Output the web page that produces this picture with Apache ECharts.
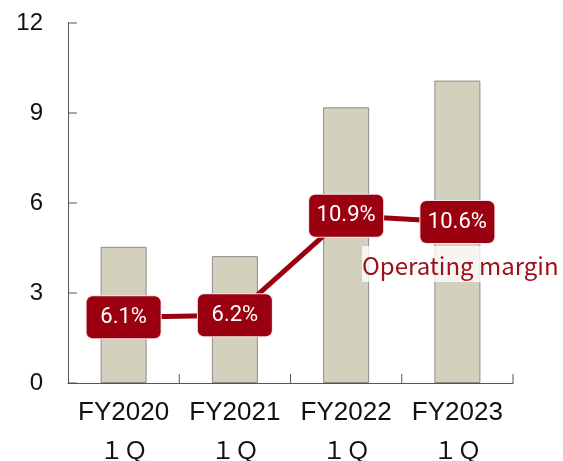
<!DOCTYPE html>
<html><head><meta charset="utf-8">
<script src="https://cdn.jsdelivr.net/npm/echarts@6/dist/echarts.min.js"></script>
<style>html,body{margin:0;padding:0;background:#fff}#c{width:563px;height:461px}</style>
</head><body><div id="c"></div>
<script>
const categories = ['FY2020', 'FY2021', 'FY2022', 'FY2023'];
const quarterLabel = '１Ｑ';
const barValues = [4.54, 4.23, 9.19, 10.08];
const marginValues = [6.1, 6.2, 10.9, 10.6];
const yTicks = [0, 3, 6, 9, 12];
const lineName = 'Operating margin';

const TICK = 9, TICK_COLOR = '#555';
const tickFrac = 0.02;
const yTickData = [];
yTicks.forEach(v => { yTickData.push([0, v], [tickFrac, v], [tickFrac, '-']); });

function xTickItem(params, api) {
  const p = api.coord([api.value(0), 0]);
  const bw = api.size([1, 0])[0];
  const x = p[0] + bw / 2;
  return { type: 'line', shape: { x1: x, y1: p[1], x2: x, y2: p[1] - TICK },
    style: { stroke: TICK_COLOR, lineWidth: 1 } };
}

const chart = echarts.init(document.getElementById('c'));
chart.setOption({
  animation: false,
  grid: { left: 68, right: 50, top: 23, bottom: 78, containLabel: false, outerBoundsMode: 'none' },
  xAxis: [{
    type: 'category', data: categories, boundaryGap: true,
    axisLine: { show: true, lineStyle: { color: TICK_COLOR, width: 1 } },
    axisTick: { show: false },
    axisLabel: {
      interval: 0, margin: 11,
      formatter: v => '{a|' + v + '}\n{b|' + quarterLabel + '}',
      rich: {
        a: { color: '#111', fontSize: 26, fontFamily: 'Liberation Sans, Arial', lineHeight: 37 },
        b: { color: '#111', fontSize: 24, fontFamily: 'Noto Sans CJK JP', lineHeight: 37 }
      }
    }
  }, {
    type: 'value', min: 0, max: 1, show: false, splitLine: { show: false }
  }],
  yAxis: [{
    type: 'value', min: yTicks[0], max: yTicks[yTicks.length - 1], interval: 3,
    axisLine: { show: true, lineStyle: { color: TICK_COLOR, width: 1 } },
    axisTick: { show: false },
    splitLine: { show: false },
    axisLabel: { color: '#111', fontSize: 24, fontFamily: 'Liberation Sans, Arial', margin: 25 }
  }, {
    type: 'value', min: 3, max: 20, show: false, splitLine: { show: false }
  }],
  series: [{
    type: 'bar', data: barValues, barWidth: 46, yAxisIndex: 0,
    itemStyle: { color: '#d3d0bd', borderColor: '#8c8c8c', borderWidth: 1 }
  }, {
    type: 'line', name: lineName, data: marginValues, yAxisIndex: 1,
    lineStyle: { color: '#9b0010', width: 5 },
    symbol: 'circle', symbolSize: 2, showSymbol: true,
    itemStyle: { color: '#9b0010' },
    label: {
      show: true, position: 'inside', formatter: '{c}%', color: '#fff',
      fontSize: 22, fontFamily: 'Roboto',
      backgroundColor: '#9b0010', borderColor: '#f4e6e6', borderWidth: 1, borderRadius: 6,
      width: 74, height: 42, lineHeight: 42, align: 'center', verticalAlign: 'middle', padding: 0
    },
    z: 5
  }, {
    type: 'line', xAxisIndex: 1, yAxisIndex: 0, data: yTickData, silent: true,
    showSymbol: false, symbol: 'none', connectNulls: false, clip: false, z: 10,
    lineStyle: { color: TICK_COLOR, width: 1 }
  }, {
    type: 'custom', xAxisIndex: 0, yAxisIndex: 0, silent: true, clip: false, z: 10,
    data: categories.map((c, i) => [i, 0]), encode: { x: 0, y: 1 },
    renderItem: xTickItem
  }],
  graphic: [{
    type: 'text', left: 362, top: 246, z: 10,
    style: { text: lineName, fill: '#a0101c', fontSize: 24, fontFamily: 'Noto Sans CJK JP',
      backgroundColor: 'rgba(255,255,255,0.78)', padding: [8, 0, 4, 0] }
  }]
});
</script></body></html>
